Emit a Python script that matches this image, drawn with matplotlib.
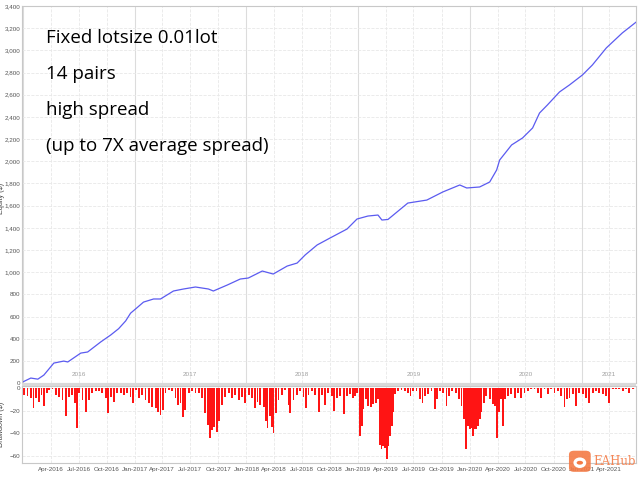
import numpy as np
import pandas as pd
import matplotlib
matplotlib.use("Agg")
import matplotlib.pyplot as plt
import matplotlib.dates as mdates
from matplotlib.ticker import FuncFormatter, MultipleLocator, FixedLocator
from matplotlib.patches import FancyBboxPatch, Ellipse

# equity curve: years since 1 Jan 2016, equity in $
eq_t = [0.0, 0.071, 0.134, 0.188, 0.277, 0.366, 0.402, 0.518, 0.580, 0.696,
        0.786, 0.857, 0.920, 0.964, 1.018, 1.080, 1.170, 1.232, 1.348, 1.438,
        1.545, 1.661, 1.705, 1.830, 1.946, 2.018, 2.143, 2.241, 2.366, 2.455,
        2.527, 2.634, 2.750, 2.902, 2.991, 3.089, 3.179, 3.214, 3.268, 3.446,
        3.616, 3.759, 3.911, 3.973, 4.089, 4.179, 4.241, 4.268, 4.375, 4.473,
        4.563, 4.625, 4.696, 4.804, 4.893, 5.009, 5.098, 5.223, 5.366, 5.491]
eq_val = [10, 45, 35, 72, 180, 198, 190, 270, 280, 370,
          433, 490, 560, 630, 676, 730, 758, 758, 830, 848,
          866, 848, 830, 884, 938, 947, 1010, 983, 1055, 1082,
          1155, 1245, 1308, 1389, 1479, 1506, 1515, 1470, 1475, 1623,
          1650, 1723, 1786, 1759, 1768, 1813, 1921, 2011, 2147, 2210,
          2300, 2435, 2508, 2625, 2688, 2778, 2868, 3022, 3157, 3256]

# drawdown bars: years since 1 Jan 2016, drawdown in $
dd_t = [0.012, 0.042, 0.071, 0.095, 0.116, 0.146, 0.167, 0.190, 0.214, 0.235,
        0.265, 0.295, 0.324, 0.354, 0.384, 0.414, 0.443, 0.464, 0.482, 0.503,
        0.533, 0.562, 0.592, 0.622, 0.652, 0.682, 0.711, 0.741, 0.765, 0.786,
        0.815, 0.845, 0.875, 0.905, 0.935, 0.964, 0.988, 1.009, 1.039, 1.068,
        1.098, 1.128, 1.158, 1.188, 1.208, 1.232, 1.256, 1.277, 1.307, 1.336,
        1.366, 1.387, 1.411, 1.432, 1.455, 1.485, 1.515, 1.545, 1.574, 1.604,
        1.634, 1.655, 1.673, 1.693, 1.714, 1.738, 1.759, 1.783, 1.813, 1.842,
        1.872, 1.902, 1.932, 1.961, 1.991, 2.021, 2.051, 2.080, 2.101, 2.125,
        2.155, 2.179, 2.190, 2.214, 2.229, 2.244, 2.268, 2.289, 2.318, 2.348,
        2.378, 2.393, 2.423, 2.452, 2.482, 2.512, 2.536, 2.557, 2.586, 2.616,
        2.652, 2.676, 2.705, 2.735,
        2.765, 2.786, 2.810, 2.839, 2.878, 2.899, 2.929, 2.952, 2.973, 2.994,
        3.018, 3.033, 3.048, 3.071, 3.092, 3.113, 3.137, 3.161, 3.182, 3.196,
        3.211, 3.226, 3.241, 3.256, 3.271, 3.286, 3.301, 3.315, 3.330, 3.360,
        3.390, 3.420, 3.449, 3.470, 3.494, 3.524, 3.554, 3.577, 3.598, 3.628,
        3.658, 3.688, 3.708, 3.732, 3.762, 3.792, 3.815, 3.845, 3.875, 3.905,
        3.926, 3.946, 3.964, 3.970, 3.985, 4.000, 4.015, 4.030, 4.045, 4.060,
        4.074, 4.089, 4.104, 4.125, 4.149, 4.179, 4.208, 4.229, 4.244, 4.262,
        4.283, 4.298, 4.318, 4.342, 4.372, 4.402, 4.432, 4.461, 4.491, 4.521,
        4.551, 4.580, 4.610, 4.640, 4.670, 4.699, 4.729, 4.759, 4.789, 4.818,
        4.848, 4.869, 4.893, 4.923, 4.952, 4.982, 5.012, 5.042, 5.071, 5.101,
        5.131, 5.161, 5.190, 5.220, 5.250, 5.280, 5.310, 5.339, 5.369, 5.399,
        5.429, 5.458]
dd_val = [-6, -7, -9, -18, -9, -12, -6, -16, -4.5, -1.5,
          -1, -6, -7.5, -10.5, -24.5, -7.5, -6, -13.5, -35.5, -4.5,
          -10.5, -21, -10.5, -4.5, -3, -3, -4.5, -9, -22, -7.5,
          -12, -4.5, -4, -6, -4.5, -7.5, -13.5, -1.5, -9, -6,
          -10.5, -13.5, -16.5, -18, -21, -23.5, -19.5, -4.5, -1.5, -3,
          -9, -15, -13.5, -26, -19.5, -4.5, -3, -4.5, -4.5, -9,
          -22, -32.5, -44.5, -37, -34, -38.5, -29.5, -15, -7.5, -4.5,
          -9, -6, -10.5, -7.5, -13.5, -6, -9, -18, -12, -15,
          -16.5, -29.5, -35.5, -25, -34, -39.5, -22, -10.5, -6, -1.5,
          -15, -22, -10.5, -6, -3, -7.5, -18, -6, -3, -6,
          -21, -6, -15, -4.5,
          -7, -20, -8.5, -7, -22.5, -7, -5.5, -8.5, -7, -4,
          -42.5, -33.5, -18.5, -10, -16, -17, -14, -13, -10, -50,
          -54, -51, -53, -63, -51, -42.5, -33.5, -21.5, -5.5, -2.5,
          -1.5, -2.5, -4, -7, -2.5, -2.5, -10, -13, -7, -5.5,
          -2.5, -18.5, -10, -2.5, -4, -16, -7, -2.5, -4, -10,
          -16, -27.5, -45.5, -54, -33.5, -36.5, -35, -42.5, -36.5, -36.5,
          -33.5, -27.5, -21.5, -13, -7, -10, -14, -16, -44, -21.5,
          -10, -33.5, -10, -7, -5.5, -8.5, -4, -8.5, -4, -2.5,
          -1, -1, -4, -8.5, -1, -5.5, -1, -4, -2.5, -7,
          -17, -10, -8.5, -5.5, -16, -4, -5.5, -8.5, -13, -4,
          -2.5, -4, -5.5, -7, -13, -1, -1, -0.5, -2.5, -1,
          -4, -1]

years = [2016, 2017, 2018, 2019, 2020, 2021]
quarter_ticks = ["2016-04", "2016-07", "2016-10", "2017-01", "2017-04",
                 "2017-07", "2017-10", "2018-01", "2018-04", "2018-07",
                 "2018-10", "2019-01", "2019-04", "2019-07", "2019-10",
                 "2020-01", "2020-04", "2020-07", "2020-10", "2021-01",
                 "2021-04"]
notes = ["Fixed lotsize 0.01lot", "14 pairs", "high spread",
         "(up to 7X average spread)"]

START = pd.Timestamp("2016-01-01")
NARROW = ["Liberation Sans Narrow", "Liberation Sans", "DejaVu Sans"]


def to_dates(t):
    return START + pd.to_timedelta(np.asarray(t) * 365.25, unit="D")


def style_axis(ax):
    for s in ax.spines.values():
        s.set_color("#c8c8c8")
        s.set_linewidth(0.8)
    ax.xaxis.set_major_locator(mdates.YearLocator())
    ax.xaxis.set_minor_locator(mdates.MonthLocator(bymonth=[4, 7, 10]))
    ax.grid(True, which="major", axis="x", color="#dcdcdc", lw=0.8, ls="-")
    ax.grid(True, which="minor", axis="x", color="#e8e8e8", lw=0.6, ls="--")
    ax.grid(True, which="major", axis="y", color="#e8e8e8", lw=0.6, ls="--")
    ax.tick_params(axis="both", which="both", length=0, labelsize=4.5,
                   colors="#555555", pad=1.2)
    ax.set_axisbelow(True)


def main():
    plt.rcParams["font.family"] = NARROW
    fig = plt.figure(figsize=(6.4, 4.8), dpi=100)
    xmin = to_dates([-0.01])[0]
    xmax = to_dates([5.49])[0]

    # equity panel
    ax1 = fig.add_axes([0.034, 0.202, 0.960, 0.7855])
    style_axis(ax1)
    ax1.plot(to_dates(eq_t), eq_val, color="#5b5bf0", lw=0.9)
    ax1.set_xlim(xmin, xmax)
    ax1.set_ylim(0, 3400)
    ax1.yaxis.set_major_locator(MultipleLocator(200))
    ax1.yaxis.set_major_formatter(FuncFormatter(lambda v, p: f"{v:,.0f}"))
    ax1.tick_params(axis="x", labelbottom=False)
    ax1.set_ylabel("Equity ($)", fontsize=5.2, color="#444444",
                   family=["Liberation Sans", "DejaVu Sans"])
    ax1.yaxis.set_label_coords(-0.0265, 0.49)
    for y in years:
        mid = pd.Timestamp(f"{y}-07-01")
        if y == 2021:
            mid = pd.Timestamp("2021-04-01")
        ax1.text(mid, 75, str(y), fontsize=4.6, color="#a0a0a0",
                 ha="center", va="center")
    for i, line in enumerate(notes):
        ax1.text(0.039, 0.915 - i * 0.0955, line, transform=ax1.transAxes,
                 fontsize=13.5, family="Open Sans", color="black",
                 ha="left", va="center")

    # drawdown panel
    ax2 = fig.add_axes([0.034, 0.0354, 0.960, 0.1604])
    style_axis(ax2)
    ax2.bar(to_dates(dd_t), dd_val, width=6, color="#ff1414",
            edgecolor="none", align="center")
    ax2.set_xlim(xmin, xmax)
    ax2.set_ylim(-66.2, 1.8)
    ax2.yaxis.set_major_locator(MultipleLocator(20))
    ax2.xaxis.set_major_locator(FixedLocator(
        mdates.date2num(pd.to_datetime(quarter_ticks))))
    ax2.xaxis.set_major_formatter(mdates.DateFormatter("%b-%Y"))
    ax2.grid(True, which="major", axis="x", color="#e8e8e8", lw=0.6, ls="--")
    ax2.set_ylabel("Drawdown ($)", fontsize=5.2, color="#444444",
                   family=["Liberation Sans", "DejaVu Sans"])
    ax2.yaxis.set_label_coords(-0.0265, 0.5)
    ax2.tick_params(axis="x", pad=3)

    # separator band between panels
    fig.add_artist(plt.Rectangle((0.034, 0.1955), 0.960, 0.0065,
                                 transform=fig.transFigure,
                                 color="#d9d9d9", lw=0))

    # watermark
    fig.add_artist(FancyBboxPatch((0.889, 0.017), 0.034, 0.044,
                                  boxstyle="round,pad=0,rounding_size=0.008",
                                  transform=fig.transFigure,
                                  color="#f47a45", lw=0, alpha=0.9))
    fig.add_artist(Ellipse((0.906, 0.036), 0.020, 0.022,
                           transform=fig.transFigure, color="white", lw=0))
    fig.add_artist(Ellipse((0.906, 0.036), 0.010, 0.008,
                           transform=fig.transFigure, color="#f47a45", lw=0))
    fig.text(0.927, 0.038, "EAHub", fontsize=8.5, color="#f47a45",
             family="DejaVu Serif", alpha=0.9, va="center", ha="left")

    fig.savefig("out.png", dpi=100)


if __name__ == "__main__":
    main()
